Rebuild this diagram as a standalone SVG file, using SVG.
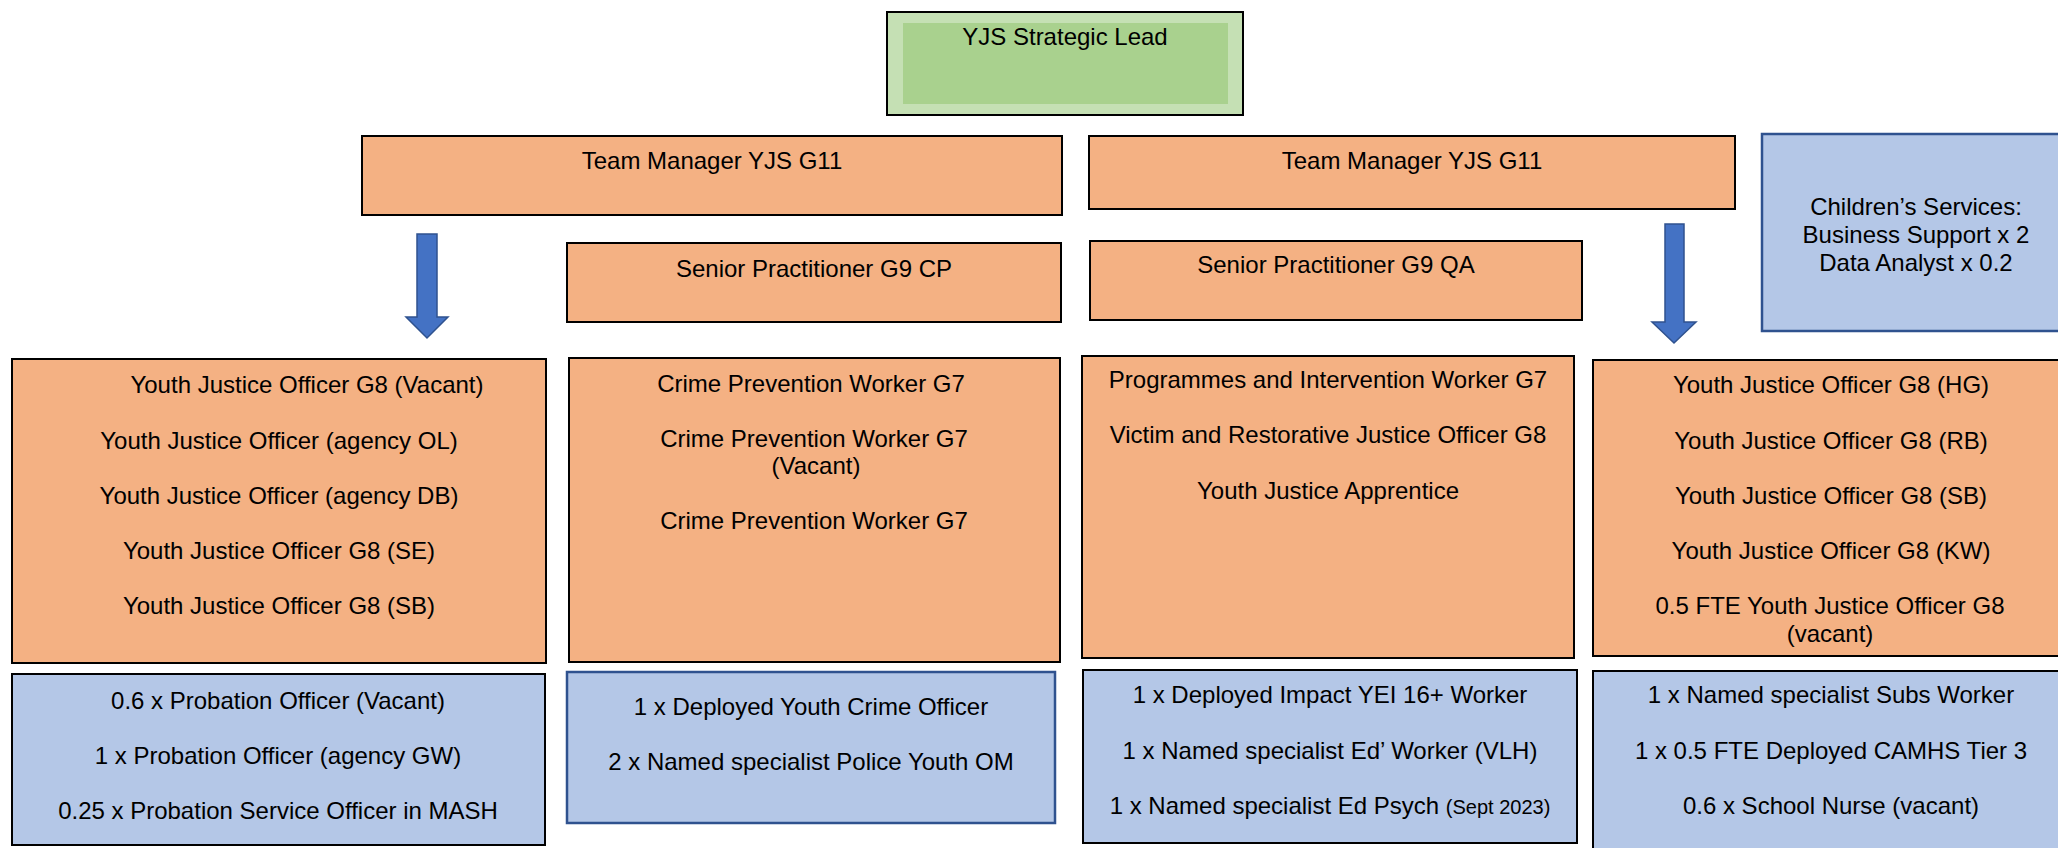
<svg xmlns="http://www.w3.org/2000/svg" width="2058" height="848" viewBox="0 0 2058 848">
<style>
text{font-family:"Liberation Sans",Arial,sans-serif;font-size:24px;fill:#000;text-anchor:middle}
.org{fill:#F4B183;stroke:#000;stroke-width:2}
.blu{fill:#B4C7E7;stroke:#000;stroke-width:2}
.blb{fill:#B4C7E7;stroke:#2F528F;stroke-width:2.5}
.arr{fill:#4472C4;stroke:#2F528F;stroke-width:1.5}
.sm{font-size:20px}
</style>
<rect width="2058" height="848" fill="#fff"/>
<g id="lead">
<rect x="887" y="12" width="356" height="103" fill="#C5E0B4" stroke="#000" stroke-width="2"/>
<rect x="903" y="23" width="325" height="81" fill="#A9D18E"/>
<text x="1065" y="45">YJS Strategic Lead</text>
</g>
<g id="tm1">
<rect class="org" x="362" y="136" width="700" height="79"/>
<text x="712" y="169">Team Manager YJS G11</text>
</g>
<g id="tm2">
<rect class="org" x="1089" y="136" width="646" height="73"/>
<text x="1412" y="169">Team Manager YJS G11</text>
</g>
<g id="sp-cp">
<rect class="org" x="567" y="243" width="494" height="79"/>
<text x="814" y="277">Senior Practitioner G9 CP</text>
</g>
<g id="sp-qa">
<rect class="org" x="1090" y="241" width="492" height="79"/>
<text x="1336" y="273">Senior Practitioner G9 QA</text>
</g>
<g id="childrens">
<rect class="blb" x="1762" y="134" width="310" height="197"/>
<text x="1916" y="215">Children’s Services:</text>
<text x="1916" y="243">Business Support x 2</text>
<text x="1916" y="271">Data Analyst x 0.2</text>
</g>
<g id="yjo-left">
<rect class="org" x="12" y="359" width="534" height="304"/>
<text x="307" y="393">Youth Justice Officer G8 (Vacant)</text>
<text x="279" y="449">Youth Justice Officer (agency OL)</text>
<text x="279" y="504">Youth Justice Officer (agency DB)</text>
<text x="279" y="559">Youth Justice Officer G8 (SE)</text>
<text x="279" y="614">Youth Justice Officer G8 (SB)</text>
</g>
<g id="cpw">
<rect class="org" x="569" y="358" width="491" height="304"/>
<text x="811" y="392">Crime Prevention Worker G7</text>
<text x="814" y="447">Crime Prevention Worker G7</text>
<text x="816" y="474">(Vacant)</text>
<text x="814" y="529">Crime Prevention Worker G7</text>
</g>
<g id="pi">
<rect class="org" x="1082" y="356" width="492" height="302"/>
<text x="1328" y="388">Programmes and Intervention Worker G7</text>
<text x="1328" y="443">Victim and Restorative Justice Officer G8</text>
<text x="1328" y="499">Youth Justice Apprentice</text>
</g>
<g id="yjo-right">
<rect class="org" x="1593" y="360" width="475" height="296"/>
<text x="1831" y="393">Youth Justice Officer G8 (HG)</text>
<text x="1831" y="449">Youth Justice Officer G8 (RB)</text>
<text x="1831" y="504">Youth Justice Officer G8 (SB)</text>
<text x="1831" y="559">Youth Justice Officer G8 (KW)</text>
<text x="1830" y="614">0.5 FTE Youth Justice Officer G8</text>
<text x="1830" y="642">(vacant)</text>
</g>
<g id="probation">
<rect class="blu" x="12" y="674" width="533" height="171"/>
<text x="278" y="709">0.6 x Probation Officer (Vacant)</text>
<text x="278" y="764">1 x Probation Officer (agency GW)</text>
<text x="278" y="819">0.25 x Probation Service Officer in MASH</text>
</g>
<g id="police">
<rect class="blb" x="567" y="672" width="488" height="151"/>
<text x="811" y="715">1 x Deployed Youth Crime Officer</text>
<text x="811" y="770">2 x Named specialist Police Youth OM</text>
</g>
<g id="education">
<rect class="blu" x="1083" y="670" width="494" height="173"/>
<text x="1330" y="703">1 x Deployed Impact YEI 16+ Worker</text>
<text x="1330" y="759">1 x Named specialist Ed’ Worker (VLH)</text>
<text x="1330" y="814">1 x Named specialist Ed Psych <tspan class="sm">(Sept 2023)</tspan></text>
</g>
<g id="health">
<rect class="blu" x="1593" y="671" width="475" height="190"/>
<text x="1831" y="703">1 x Named specialist Subs Worker</text>
<text x="1831" y="759">1 x 0.5 FTE Deployed CAMHS Tier 3</text>
<text x="1831" y="814">0.6 x School Nurse (vacant)</text>
</g>
<g id="connectors">
<polygon class="arr" points="417,234 437,234 437,317 448,317 427,338 406,317 417,317"/>
<polygon class="arr" points="1665,224 1684,224 1684,322 1696,322 1674,343 1652,322 1665,322"/>
</g>
</svg>
